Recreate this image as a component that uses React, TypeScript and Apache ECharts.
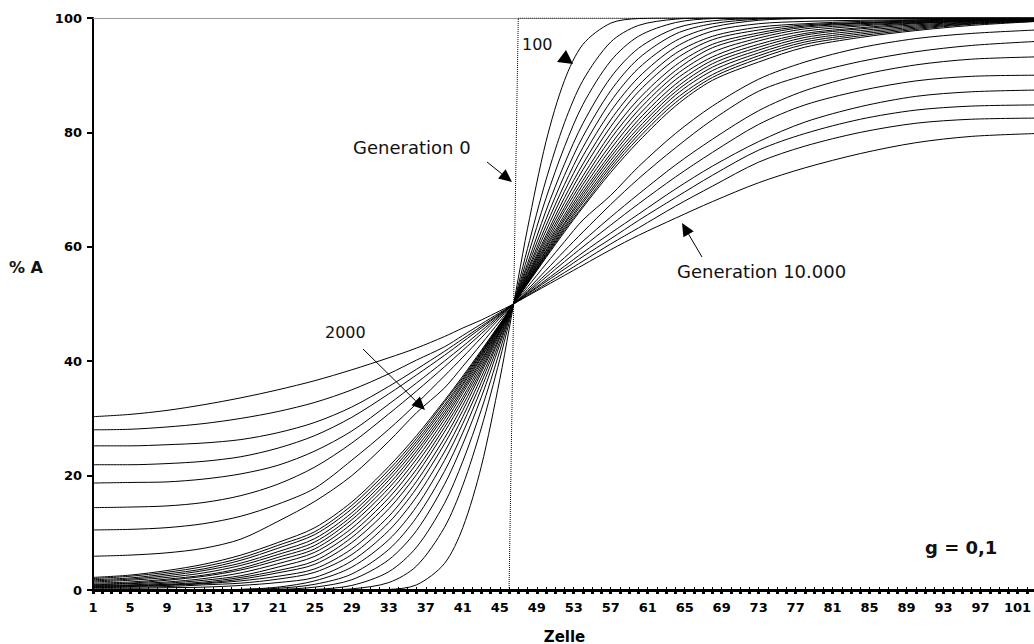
import React, { useEffect, useRef } from "react";
import * as echarts from "echarts";

// Category axis: cells 1..103 (label shown every 4th cell: 1, 5, 9, ... 101)
const xCategories = Array.from({ length: 103 }, (_, i) => String(i + 1));

const sampleCells = [1, 5, 9, 13, 17, 21, 25, 29, 33, 36, 39, 41, 43, 45, 46, 47, 48, 50, 52, 54, 57, 60, 64, 68, 73, 78, 84, 90, 96, 103];

// Y axis
const yMin = 0;
const yMax = 100;
const yStep = 20;

// Generation 0: step profile (dotted)
const gen0 = [0, 0, 0, 0, 0, 0, 0, 0, 0, 0, 0, 0, 0, 0, 0, 100, 100, 100, 100, 100, 100, 100, 100, 100, 100, 100, 100, 100, 100, 100];

// Dense bundle: generations 100 ... 2000
const gen100 = [0, 0, 0, 0, 0, 0, 0, 0, 0.1, 0.9, 4.6, 10.9, 21.6, 36.8, 45.5, 54.5, 63.2, 78.4, 89.1, 95.4, 99.1, 99.9, 100, 100, 100, 100, 100, 100, 100, 100];
const gen200 = [0, 0, 0, 0, 0, 0, 0, 0.2, 1.3, 4.2, 10.9, 18.3, 28.3, 40.3, 46.7, 53.3, 59.7, 71.7, 81.7, 89.1, 95.8, 98.7, 99.8, 100, 100, 100, 100, 100, 100, 100];
const gen300 = [0, 0, 0, 0, 0, 0, 0.1, 0.8, 3.2, 7.5, 15.1, 22.5, 31.5, 41.8, 47.3, 52.7, 58.2, 68.5, 77.5, 84.9, 92.5, 96.8, 99.2, 99.9, 100, 100, 100, 100, 100, 100];
const gen400 = [0, 0, 0, 0, 0, 0.1, 0.5, 1.8, 5.3, 10.4, 18.4, 25.5, 33.7, 42.9, 47.6, 52.4, 57.1, 66.3, 74.5, 81.6, 89.6, 94.7, 98.2, 99.5, 99.9, 100, 100, 100, 100, 100];
const gen500 = [0, 0, 0, 0, 0.1, 0.3, 1.0, 2.8, 7.1, 12.7, 20.7, 27.5, 35.2, 43.5, 47.8, 52.2, 56.5, 64.8, 72.5, 79.3, 87.3, 92.9, 97.2, 99.0, 99.8, 100, 100, 100, 100, 100];
const gen600 = [0, 0, 0, 0, 0.1, 0.5, 1.6, 4.0, 8.8, 14.6, 22.6, 29.1, 36.3, 44.1, 48.0, 52.0, 55.9, 63.7, 70.9, 77.4, 85.4, 91.2, 96.0, 98.4, 99.6, 99.9, 100, 100, 100, 100];
const gen700 = [0.3, 0.3, 0.4, 0.5, 0.8, 1.3, 2.2, 5.1, 10.4, 16.3, 24.1, 30.3, 37.2, 44.4, 48.1, 51.9, 55.6, 62.8, 69.7, 75.9, 83.7, 89.6, 94.9, 97.7, 99.0, 99.4, 99.6, 99.7, 99.8, 99.9];
const gen800 = [0.4, 0.5, 0.6, 0.9, 1.2, 1.9, 3.1, 6.2, 11.8, 17.8, 25.5, 31.4, 38.0, 44.8, 48.3, 51.7, 55.2, 62.0, 68.6, 74.5, 82.2, 88.2, 93.8, 96.8, 98.4, 99.0, 99.4, 99.6, 99.7, 99.8];
const gen900 = [0.5, 0.6, 0.8, 1.1, 1.6, 2.4, 3.7, 7.2, 12.9, 19.0, 26.5, 32.3, 38.5, 45.1, 48.3, 51.7, 54.9, 61.5, 67.7, 73.5, 81.0, 87.1, 92.8, 96.2, 97.9, 98.8, 99.2, 99.5, 99.7, 99.8];
const gen1000 = [0.6, 0.7, 0.9, 1.2, 1.9, 3.0, 4.5, 8.3, 14.2, 20.2, 27.6, 33.1, 39.0, 45.3, 48.4, 51.6, 54.7, 61.0, 66.9, 72.4, 79.8, 85.8, 91.7, 95.4, 97.4, 98.6, 99.1, 99.4, 99.6, 99.8];
const gen1100 = [0.7, 0.8, 1.0, 1.4, 2.2, 3.4, 5.1, 9.2, 15.2, 21.1, 28.4, 33.7, 39.5, 45.4, 48.5, 51.5, 54.6, 60.5, 66.3, 71.6, 78.9, 84.8, 90.8, 94.8, 97.0, 98.4, 99.0, 99.3, 99.6, 99.8];
const gen1200 = [0.8, 0.9, 1.2, 1.7, 2.5, 4.0, 5.9, 10.0, 16.1, 22.1, 29.1, 34.4, 39.9, 45.6, 48.5, 51.5, 54.4, 60.1, 65.6, 70.9, 77.9, 83.9, 90.0, 94.0, 96.5, 98.1, 98.8, 99.2, 99.5, 99.7];
const gen1300 = [0.9, 1.1, 1.4, 2.0, 3.0, 4.6, 6.6, 10.8, 17.0, 22.9, 29.8, 34.9, 40.2, 45.8, 48.6, 51.4, 54.2, 59.8, 65.1, 70.2, 77.1, 83.0, 89.2, 93.2, 96.0, 97.7, 98.6, 99.1, 99.5, 99.7];
const gen1400 = [1.0, 1.2, 1.7, 2.4, 3.5, 5.2, 7.2, 11.6, 17.8, 23.7, 30.4, 35.3, 40.6, 45.9, 48.6, 51.4, 54.1, 59.4, 64.7, 69.6, 76.3, 82.2, 88.4, 92.6, 95.4, 97.3, 98.3, 99.0, 99.4, 99.7];
const gen1500 = [1.2, 1.4, 1.9, 2.6, 3.8, 5.7, 7.8, 12.3, 18.5, 24.3, 30.9, 35.8, 40.8, 46.0, 48.7, 51.3, 54.0, 59.2, 64.2, 69.1, 75.7, 81.5, 87.7, 92.0, 94.9, 97.0, 98.1, 98.8, 99.3, 99.6];
const gen1600 = [1.4, 1.7, 2.2, 3.0, 4.3, 6.2, 8.4, 12.9, 19.2, 24.9, 31.4, 36.1, 41.1, 46.2, 48.7, 51.3, 53.8, 58.9, 63.9, 68.6, 75.1, 80.8, 87.1, 91.4, 94.4, 96.6, 97.8, 98.6, 99.2, 99.6];
const gen1700 = [1.6, 1.9, 2.5, 3.4, 4.7, 6.7, 9.0, 13.5, 19.8, 25.5, 31.9, 36.5, 41.3, 46.2, 48.8, 51.2, 53.8, 58.7, 63.5, 68.1, 74.5, 80.2, 86.5, 90.8, 93.9, 96.2, 97.5, 98.4, 99.1, 99.5];
const gen1800 = [1.8, 2.1, 2.8, 3.7, 5.2, 7.3, 9.7, 14.2, 20.4, 26.0, 32.3, 36.8, 41.5, 46.3, 48.8, 51.2, 53.7, 58.5, 63.2, 67.7, 74.0, 79.6, 85.8, 90.1, 93.4, 95.8, 97.2, 98.2, 99.0, 99.5];
const gen1900 = [2.0, 2.4, 3.1, 4.1, 5.6, 7.8, 10.2, 14.8, 21.0, 26.5, 32.8, 37.1, 41.7, 46.4, 48.8, 51.2, 53.6, 58.3, 62.9, 67.2, 73.5, 79.0, 85.2, 89.6, 92.9, 95.4, 96.9, 98.0, 98.9, 99.4];
const gen2000 = [2.2, 2.6, 3.4, 4.5, 6.1, 8.3, 10.9, 15.4, 21.6, 27.0, 33.1, 37.4, 41.9, 46.5, 48.8, 51.2, 53.5, 58.1, 62.6, 66.9, 73.0, 78.4, 84.6, 89.1, 92.3, 94.9, 96.6, 97.8, 98.7, 99.4];

// Sparse set: generations 3000 ... 10000
const gen3000 = [5.9, 6.1, 6.5, 7.3, 8.9, 12.0, 15.5, 20.0, 26.0, 31.0, 35.3, 39.1, 43.0, 47.0, 49.0, 51.0, 53.0, 57.0, 60.9, 64.7, 69.0, 74.0, 79.8, 84.6, 89.3, 92.3, 94.8, 96.4, 97.3, 97.9];
const gen4000 = [10.5, 10.6, 10.9, 11.6, 12.9, 15.0, 17.8, 22.7, 28.1, 32.6, 37.4, 40.7, 44.1, 47.5, 49.2, 50.8, 52.5, 55.9, 59.3, 62.6, 67.4, 71.9, 77.3, 82.2, 87.2, 90.0, 92.4, 94.1, 95.2, 95.9];
const gen5000 = [14.4, 14.5, 14.7, 15.3, 16.5, 18.5, 21.5, 25.7, 30.8, 34.8, 39.0, 41.9, 44.8, 47.8, 49.3, 50.7, 52.2, 55.2, 58.1, 61.0, 65.2, 69.2, 74.3, 78.8, 83.8, 87.3, 90.0, 91.8, 92.8, 93.2];
const gen6000 = [18.7, 18.8, 18.9, 19.4, 20.3, 21.8, 24.3, 27.8, 32.5, 36.2, 40.0, 42.6, 45.3, 48.0, 49.3, 50.7, 52.0, 54.7, 57.4, 60.0, 63.8, 67.5, 72.2, 76.5, 81.4, 84.8, 87.3, 89.0, 89.8, 90.0];
const gen7000 = [21.9, 21.9, 22.1, 22.5, 23.3, 24.8, 27.0, 30.2, 34.3, 37.6, 41.0, 43.4, 45.8, 48.2, 49.4, 50.6, 51.8, 54.2, 56.6, 59.0, 62.4, 65.7, 70.1, 74.1, 78.4, 81.8, 84.5, 86.3, 87.1, 87.4];
const gen8000 = [25.2, 25.2, 25.4, 25.7, 26.3, 27.5, 29.3, 32.0, 35.6, 38.6, 41.7, 43.9, 46.1, 48.3, 49.4, 50.6, 51.7, 53.9, 56.1, 58.3, 61.4, 64.6, 68.6, 72.5, 76.9, 79.8, 82.3, 83.9, 84.6, 84.8];
const gen9000 = [28.0, 28.1, 28.5, 29.1, 30.0, 31.2, 32.8, 35.0, 37.8, 40.2, 42.5, 44.5, 46.5, 48.5, 49.5, 50.5, 51.5, 53.5, 55.5, 57.5, 60.5, 63.3, 67.1, 70.6, 74.8, 77.6, 80.0, 81.6, 82.3, 82.5];
const gen10000 = [30.3, 30.7, 31.4, 32.4, 33.6, 35.0, 36.6, 38.5, 40.6, 42.3, 44.3, 45.8, 47.2, 48.8, 49.6, 50.5, 51.4, 53.2, 55.0, 56.8, 59.5, 62.0, 65.0, 67.9, 71.2, 73.8, 76.3, 78.2, 79.3, 79.8];

const denseCurves = [gen100, gen200, gen300, gen400, gen500, gen600, gen700, gen800, gen900, gen1000, gen1100, gen1200, gen1300, gen1400, gen1500, gen1600, gen1700, gen1800, gen1900, gen2000];
const sparseCurves = [gen3000, gen4000, gen5000, gen6000, gen7000, gen8000, gen9000, gen10000];

const FONT = '"DejaVu Sans", Arial, sans-serif';

function arrow(x1: number, y1: number, x2: number, y2: number, head = 13, half = 6) {
  const dx = x2 - x1;
  const dy = y2 - y1;
  const len = Math.sqrt(dx * dx + dy * dy);
  const ux = dx / len;
  const uy = dy / len;
  const bx = x2 - head * ux;
  const by = y2 - head * uy;
  const px = -uy;
  const py = ux;
  return [
    { type: "line", z: 100, shape: { x1, y1, x2: bx, y2: by }, style: { stroke: "#000", lineWidth: 1 } },
    {
      type: "polygon",
      z: 100,
      shape: { points: [[x2, y2], [bx + half * px, by + half * py], [bx - half * px, by - half * py]] },
      style: { fill: "#000" },
    },
  ];
}

function label(text: string, x: number, y: number, font: string) {
  return {
    type: "text",
    z: 100,
    x,
    y,
    style: { text, font, fill: "#111", textAlign: "left", textVerticalAlign: "middle" },
  };
}

export default function App() {
  const ref = useRef<HTMLDivElement>(null);

  useEffect(() => {
    if (!ref.current) return;
    const chart = echarts.init(ref.current, null, { renderer: "svg" });
    const toPairs = (vals: number[]) => sampleCells.map((c, i) => [c - 1, vals[i]]);

    const curveSeries = [...sparseCurves, ...denseCurves].map((vals) => ({
      type: "line",
      xAxisIndex: 0,
      yAxisIndex: 0,
      data: toPairs(vals),
      symbol: "none",
      showSymbol: false,
      smooth: 0.3,
      silent: true,
      lineStyle: { color: "#000", width: 1 },
      z: 3,
    }));

    const option: any = {
      animation: false,
      backgroundColor: "#fff",
      grid: { left: 93, right: -2, top: 18, bottom: 54, containLabel: false, outerBoundsMode: "none" },
      xAxis: [
        {
          type: "category",
          data: xCategories,
          boundaryGap: false,
          position: "bottom",
          name: "Zelle",
          nameLocation: "middle",
          nameGap: 39,
          nameTextStyle: { fontFamily: FONT, fontWeight: "bold", fontSize: 15, color: "#000" },
          axisLine: { show: true, lineStyle: { color: "#000", width: 3 } },
          axisTick: { show: true, interval: 0, length: 4, inside: false, lineStyle: { color: "#000", width: 3 } },
          axisLabel: { interval: 3, margin: 11, fontFamily: FONT, fontWeight: "bold", fontSize: 13, color: "#000" },
          splitLine: { show: false },
        },
        {
          type: "category",
          data: xCategories,
          boundaryGap: false,
          position: "top",
          axisLine: { show: true, lineStyle: { color: "#999", width: 1 } },
          axisTick: { show: false },
          axisLabel: { show: false },
          splitLine: { show: false },
        },
        {
          type: "category",
          data: xCategories,
          boundaryGap: false,
          position: "bottom",
          axisLine: { show: false },
          axisTick: { show: true, interval: 0, length: 3, inside: true, lineStyle: { color: "#000", width: 1 } },
          axisLabel: { show: false },
          splitLine: { show: false },
        },
      ],
      yAxis: {
        type: "value",
        min: yMin,
        max: yMax,
        interval: yStep,
        axisLine: { show: true, lineStyle: { color: "#000", width: 2 } },
        axisTick: { show: true, length: 6, lineStyle: { color: "#000", width: 2 } },
        axisLabel: { margin: 11, fontFamily: FONT, fontWeight: "bold", fontSize: 13, color: "#000" },
        splitLine: { show: false },
      },
      series: [
        {
          type: "line",
          xAxisIndex: 0,
          yAxisIndex: 0,
          data: toPairs(gen0),
          symbol: "none",
          showSymbol: false,
          silent: true,
          lineStyle: { color: "#000", width: 1, type: "dotted" },
          z: 2,
        },
        ...curveSeries,
      ],
      graphic: [
        label("% A", 9, 267, `bold 16px ${FONT}`),
        label("Generation 0", 353, 147, `18px ${FONT}`),
        ...arrow(487, 162, 512, 182),
        label("100", 522, 44, `16px ${FONT}`),
        {
          type: "polygon",
          z: 100,
          shape: { points: [[566, 50], [557, 62], [573, 64]] },
          style: { fill: "#000" },
        },
        label("2000", 325, 332, `16px ${FONT}`),
        ...arrow(363, 349, 425, 410),
        label("Generation 10.000", 677, 271, `18px ${FONT}`),
        ...arrow(702, 257, 682, 223),
        label("g = 0,1", 925, 547, `bold 18px ${FONT}`),
      ],
    };

    chart.setOption(option);
    return () => chart.dispose();
  }, []);

  return <div ref={ref} style={{ position: "absolute", left: 0, top: 0, width: 1034, height: 644 }} />;
}
